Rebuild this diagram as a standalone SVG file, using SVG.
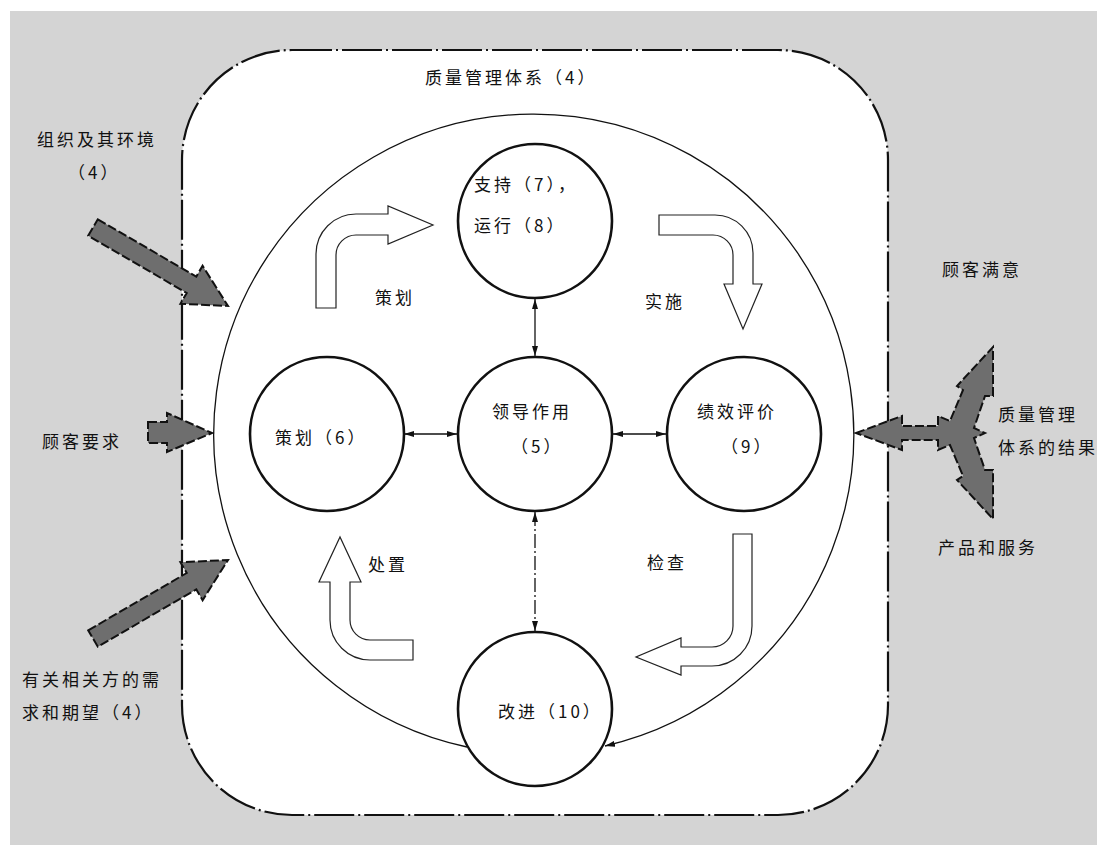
<svg xmlns="http://www.w3.org/2000/svg" width="1097" height="845" viewBox="0 0 1097 845">
<defs>
<style>
.t{font-family:"Noto Sans CJK SC","Noto Sans",sans-serif;font-size:17px;letter-spacing:3px;fill:#111;}
.node{fill:#fff;stroke:#111;stroke-width:2.6;}
.blk{fill:#fff;stroke:#222;stroke-width:1.2;stroke-linejoin:miter;}
.gray{fill:#6e6e6e;stroke:#111;stroke-width:2;stroke-dasharray:9 3;stroke-linejoin:miter;}
.con{fill:none;stroke:#111;stroke-width:1.3;}
</style>
<marker id="ah" viewBox="0 0 10 6" refX="10" refY="3" markerWidth="10" markerHeight="6" markerUnits="userSpaceOnUse" orient="auto-start-reverse">
<path d="M0,0 L10,3 L0,6 Z" fill="#111"/>
</marker>
</defs>
<rect x="0" y="0" width="1097" height="845" fill="#ffffff"/>
<rect x="10" y="11" width="1087" height="834" fill="#d4d4d4"/>
<rect id="qms-boundary" x="182" y="50" width="706" height="765" rx="110" ry="110" fill="#ffffff" stroke="#111" stroke-width="2.2" stroke-dasharray="40 4 2 4"/>

<g id="connectors">
<path class="con" d="M467,747 A320,320 0 1 1 605,746" marker-end="url(#ah)"/>
<line class="con" x1="535" y1="299" x2="535" y2="356" marker-start="url(#ah)" marker-end="url(#ah)"/>
<line class="con" x1="404" y1="434" x2="457" y2="434" marker-start="url(#ah)" marker-end="url(#ah)"/>
<line class="con" x1="613" y1="434" x2="666" y2="434" marker-start="url(#ah)" marker-end="url(#ah)"/>
<line class="con" x1="535" y1="512" x2="535" y2="631" stroke-dasharray="14 3 2 3" marker-start="url(#ah)" marker-end="url(#ah)"/>
</g>

<g id="cycle-arrows">
<path id="arrow-plan" class="blk" d="M316,308 V254 A40,40 0 0 1 356,214 H388 V206 L433,225 L388,244 V235 H356 A20,20 0 0 0 336,255 V308 Z"/>
<path id="arrow-do" class="blk" d="M659,215 H715 A38,38 0 0 1 753,253 V284 H762 L743,329 L724,284 H733 V255 A20,20 0 0 0 713,235 H659 Z"/>
<path id="arrow-check" class="blk" d="M733,534 H752 V626 A40,40 0 0 1 712,666 H681 V675 L636,657 L681,638 V647 H712 A21,21 0 0 0 733,626 Z"/>
<path id="arrow-act" class="blk" d="M413,660 H370 A40,40 0 0 1 330,620 V582 H319 L340,537 L361,582 H350 V620 A20,20 0 0 0 370,640 H413 Z"/>
</g>

<g id="input-arrows">
<polygon id="arrow-org" class="gray" points="97.8,219.3 196.3,276.6 202.6,265.8 228,306 180.4,303.8 186.7,293 88.2,235.7"/>
<polygon id="arrow-cust" class="gray" points="148,422 167,422 167,413 212,433 167,452 167,443 148,443"/>
<polygon id="arrow-parties" class="gray" points="88.2,630.3 186.7,573 180.4,562.2 228,560 202.6,600.2 196.3,589.4 97.8,646.7"/>
<polygon id="arrow-results" class="gray" points="856,433 902,416 902,426 938,426 938,416 950,421 963,390 957,386 993,347 993,396 985,396 974,428 985,433 974,438 985,470 993,470 993,519 957,480 963,476 950,445 938,450 938,440 902,440 902,450"/>
</g>

<g id="node-support"><circle class="node" cx="535" cy="221" r="77"/>
<text class="t" x="474" y="191">支持（7），</text><text class="t" x="474" y="232">运行（8）</text></g>
<g id="node-leadership"><circle class="node" cx="535" cy="434" r="77"/>
<text class="t" x="492" y="418">领导作用</text><text class="t" x="511" y="453">（5）</text></g>
<g id="node-planning"><circle class="node" cx="327" cy="434" r="77"/>
<text class="t" x="275" y="444">策划（6）</text></g>
<g id="node-evaluation"><circle class="node" cx="744" cy="434" r="77"/>
<text class="t" x="697" y="418">绩效评价</text><text class="t" x="721" y="453">（9）</text></g>
<g id="node-improvement"><circle class="node" cx="535" cy="709" r="77"/>
<text class="t" x="498" y="718">改进（10）</text></g>

<g id="labels">
<text class="t" x="425" y="84">质量管理体系（4）</text>
<text class="t" x="37" y="146">组织及其环境</text>
<text class="t" x="68" y="179">（4）</text>
<text class="t" x="42" y="448">顾客要求</text>
<text class="t" x="22" y="686">有关相关方的需</text>
<text class="t" x="22" y="719">求和期望（4）</text>
<text class="t" x="942" y="276">顾客满意</text>
<text class="t" x="998" y="421">质量管理</text>
<text class="t" x="998" y="454">体系的结果</text>
<text class="t" x="938" y="554">产品和服务</text>
<text class="t" x="375" y="304">策划</text>
<text class="t" x="645" y="308">实施</text>
<text class="t" x="647" y="569">检查</text>
<text class="t" x="368" y="571">处置</text>
</g>
</svg>
